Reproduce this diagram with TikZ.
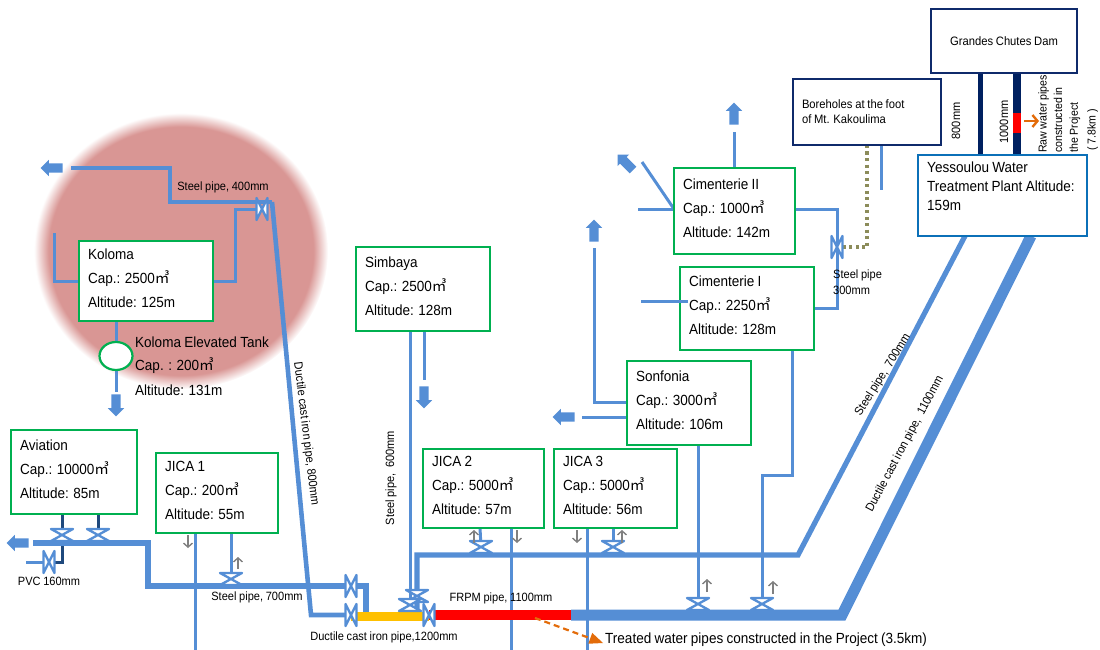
\documentclass[tikz,border=0pt]{standalone}
\usepackage{fontspec}
\setmainfont[FakeStretch=0.92,WordSpace=0.88]{Liberation Sans}
\newfontfamily\cjk{Noto Sans CJK SC}
\usetikzlibrary{arrows,arrows.meta,shapes,positioning,calc,backgrounds}
\definecolor{pipeblue}{HTML}{558ED5}
\definecolor{darkpipe}{HTML}{1F497D}
\definecolor{tankgreen}{HTML}{00B050}
\definecolor{navybox}{HTML}{0F2A6B}
\definecolor{plantblue}{HTML}{0B70B8}
\definecolor{rawnavy}{HTML}{002060}
\definecolor{oliveline}{HTML}{8C8C5A}
\definecolor{orangearrow}{HTML}{E36C0A}
\definecolor{glowred}{HTML}{D99694}
\definecolor{ductyellow}{HTML}{FFC000}
\pgfdeclareradialshading{glow}{\pgfpointorigin}{color(0bp)=(glowred); color(22.5bp)=(glowred); color(25bp)=(white); color(50bp)=(white)}
\newcommand{\tanktext}[3]{#1\\Cap.: #2{\cjk ㎥}\\Altitude: #3\rule[-6pt]{0pt}{0pt}}
\tikzset{
  tankbox/.style={draw=tankgreen,line width=2pt,fill=white,align=flush left,anchor=north west,
    inner xsep=9pt,inner ysep=0pt,outer sep=0pt,font=\fontsize{14.7}{24}\selectfont},
  plainbox/.style={draw=navybox,line width=2.2pt,fill=white,align=flush left,anchor=north west,
    inner sep=0pt,outer sep=0pt,font=\fontsize{12.2}{15}\selectfont},
  lbl/.style={inner sep=0pt,font=\fontsize{12}{14}\selectfont},
  txt/.style={inner sep=0pt,anchor=west,font=\fontsize{14.7}{17}\selectfont},
  pipe/.style={draw=pipeblue,line width=3pt},
  main/.style={draw=pipeblue,line width=5.2pt},
  trunk/.style={draw=pipeblue,line width=11pt},
  dark/.style={draw=darkpipe,line width=3pt},
  flow/.style={draw=gray,line width=1.4pt,->,>={Straight Barb[length=4pt,width=9pt]}},
  blockarrow/.style={single arrow,fill=pipeblue,inner xsep=0pt,inner ysep=4.5pt,outer sep=0pt,minimum height=22pt,
    minimum width=16pt,single arrow head extend=3.5pt},
  valveh/.style={minimum width=25pt,minimum height=15pt,inner sep=0pt,outer sep=0pt,path picture={
    \draw[pipeblue,line width=2.3pt,fill=white,line join=round]
      ([shift={(1.5pt,1.5pt)}]path picture bounding box.south west) -- ([shift={(-1.5pt,-1.5pt)}]path picture bounding box.north east)
      -- ([shift={(1.5pt,-1.5pt)}]path picture bounding box.north west) -- ([shift={(-1.5pt,1.5pt)}]path picture bounding box.south east) -- cycle;}},
  valvev/.style={minimum width=14pt,minimum height=25pt,inner sep=0pt,outer sep=0pt,path picture={
    \draw[pipeblue,line width=2.3pt,fill=white,line join=round]
      ([shift={(1.5pt,1.5pt)}]path picture bounding box.south west) -- ([shift={(-1.5pt,-1.5pt)}]path picture bounding box.north east)
      -- ([shift={(-1.5pt,1.5pt)}]path picture bounding box.south east) -- ([shift={(1.5pt,-1.5pt)}]path picture bounding box.north west) -- cycle;}}
}
\begin{document}
\begin{tikzpicture}[x=1pt,y=-1pt]
  \useasboundingbox (0,0) rectangle (1100,650);

  % Valves
  \node[valvev] (vKoloma) at (262,209) {};
  \node[valveh] (vAvi1) at (62,535) {};
  \node[valveh] (vAvi2) at (98,535) {};
  \node[valvev] (vPvc) at (49,562) {};
  \node[valveh] (vJica1) at (231,579) {};
  \node[valvev] (vSteel) at (351,586) {};
  \node[valvev] (vDuct) at (351,615) {};
  \node[valveh] (vOne) at (417,596) {};
  \node[valveh] (vTwo) at (410,605) {};
  \node[valvev] (vFrpm) at (429,615) {};
  \node[valveh] (vJica2) at (481,547) {};
  \node[valveh] (vJica3) at (613,547) {};
  \node[valveh] (vSon) at (698,604) {};
  \node[valveh] (vCim) at (762,604) {};
  \node[valvev] (vBore) at (837,247) {};

  % Reservoirs
  \node[tankbox,text width=116pt,minimum height=80pt] (koloma) at (79,241) {\tanktext{Koloma}{2500}{125m}};
  \node[tankbox,text width=108pt,minimum height=84pt] (aviation) at (11,430) {\tanktext{Aviation}{10000}{85m}};
  \node[tankbox,text width=104pt,minimum height=80pt] (jicaA) at (156,453) {\tanktext{JICA 1}{200}{55m}};
  \node[tankbox,text width=116pt,minimum height=84pt] (simbaya) at (356,247) {\tanktext{Simbaya}{2500}{128m}};
  \node[tankbox,text width=103pt,minimum height=79pt] (jicaB) at (423,449) {\tanktext{JICA 2}{5000}{57m}};
  \node[tankbox,text width=105pt,minimum height=79pt] (jicaC) at (554,449) {\tanktext{JICA 3}{5000}{56m}};
  \node[tankbox,text width=106pt,minimum height=84pt] (sonfonia) at (627,361) {\tanktext{Sonfonia}{3000}{106m}};
  \node[tankbox,text width=116pt,minimum height=83pt] (cimA) at (680,267) {\tanktext{Cimenterie I}{2250}{128m}};
  \node[tankbox,text width=103pt,minimum height=86pt] (cimB) at (674,168) {\tanktext{Cimenterie II}{1000}{142m}};
  \node[draw=tankgreen,line width=2.2pt,fill=white,ellipse,minimum width=33pt,minimum height=28pt,inner sep=0pt] (tank) at (116,356) {};

  % Sources
  \node[plainbox,align=flush center,text width=146pt,minimum height=64pt] (dam) at (931,9) {Grandes Chutes Dam};
  \node[plainbox,text width=130pt,inner xsep=9pt,minimum height=66pt] (bore) at (793,79) {Boreholes at the foot\\of Mt. Kakoulima};
  \node[draw=plantblue,line width=2.2pt,fill=white,anchor=north west,inner sep=0pt,outer sep=0pt,minimum width=169pt,minimum height=81pt] (plant) at (918,155) {};
  \node[inner sep=0pt,anchor=north west,align=flush left,font=\fontsize{14.7}{19}\selectfont] (plantText) at (927,162) {Yessoulou Water\\Treatment Plant Altitude:\\159m};

  % Block arrows
  \node[blockarrow,rotate=180] (outKoloma) at (54,168) {};
  \node[blockarrow,rotate=270] (outTank) at (116,403) {};
  \node[blockarrow,rotate=180] (outAvi) at (20,543) {};
  \node[blockarrow,rotate=270] (outSim) at (424,395) {};
  \node[blockarrow,rotate=180] (outSon) at (566,417) {};
  \node[blockarrow,rotate=90] (outUp) at (594,233) {};
  \node[blockarrow,rotate=90] (outCim) at (734,116) {};
  \node[blockarrow,rotate=135] (outDiag) at (627,164) {};

  % Free ends and corners
  \coordinate (kolomaEnd) at (71,168);
  \coordinate (kolomaStub) at (54,233);
  \coordinate (ironTop) at (272,202);
  \coordinate (ironFoot) at (311,615);
  \coordinate (aviEnd) at (33,543);
  \coordinate (steelFoot) at (366,612);
  \coordinate (steelKnee) at (798,555);
  \coordinate (trunkKnee) at (842,615);
  \coordinate (trunkRed) at (571,615);
  \coordinate (boreStub) at (881,190);
  \coordinate (diagEnd) at (642,162);

  \begin{scope}[on background layer]
    % Koloma service area
    \shade[shading=glow] (181,251) ellipse [x radius=147,y radius=138];

    % Thin pipes
    \draw[pipe] (kolomaStub) |- (koloma.west);
    \draw[pipe] (koloma.east) -| (235,209) -- (vKoloma.center);
    \draw[pipe] (195,533) -- (195,650);
    \draw[pipe] (vJica1 |- jicaA.south) -- (vJica1.center);
    \draw[pipe] (vTwo |- simbaya.south) -- (vTwo.center);
    \draw[pipe] (outSim |- simbaya.south) -- (424,380);
    \draw[pipe] (480,528) -- (vJica2.center);
    \draw[pipe] (511,528) -- (511,650);
    \draw[pipe] (587,528) -- (587,650);
    \draw[pipe] (vJica3 |- jicaC.south) -- (vJica3.center);
    \draw[pipe] (vSon |- sonfonia.south) -- (vSon.center);
    \draw[pipe] (792,350) -- (792,475) -- (762,475) -- (vCim.center);
    \draw[pipe] (sonfonia.west |- 0,417) -- (582,417);
    \draw[pipe] (sonfonia.west |- 0,402) -- (594,402) -- (594,248);
    \draw[pipe] ([yshift=2pt]cimB.west) -- +(-36,0);
    \draw[pipe] ([yshift=2pt]cimB.west) -- (diagEnd);
    \draw[pipe] (outCim |- cimB.north) -- (734,132);
    \draw[pipe] ([yshift=2pt]cimB.east) -| (vBore.center) |- (cimA.east);
    \draw[pipe] (boreStub |- bore.south) -- (boreStub);
    \draw[pipe] (tank.center) -- (116,321);
    \draw[pipe] (tank.center) -- (116,392);
    \draw[pipe] (26,562) -- (vPvc.center);
    \draw[dark] (vAvi1 |- aviation.south) -- (vAvi1.center);
    \draw[dark] (vAvi2 |- aviation.south) -- (vAvi2.center);
    \draw[dark] (62,543) |- (vPvc.center);

    % Long pipes
    \draw[main] (aviEnd) -- (148,543) -- (148,586) -- (vSteel.center) -- (366,586) -- (steelFoot);
    \draw[main,line width=4.6pt] (ironTop) -- (ironFoot) -- (vDuct.center);
    \draw[main] (417,612) -- (417,555) -- (steelKnee) -- (plant.south -| 965,0);
    \draw[pipe,line width=3.4pt] (ironTop) -- (170,202) -- (170,168) -- (kolomaEnd);

    % Treated water main
    \draw[trunk] (trunkRed) -- (trunkKnee) -- (plant.south -| 1031,0);
    \draw[draw=red,line width=10pt] (vFrpm.center) -- (trunkRed);
    \draw[draw=ductyellow,line width=9pt] (vDuct.center |- 0,616) -- (vFrpm.center |- 0,616);

    % Raw water
    \draw[draw=rawnavy,line width=5pt] (dam.south -| 980,0) -- (plant.north -| 980,0);
    \draw[draw=rawnavy,line width=8pt] (dam.south -| 1017,0) -- (plant.north -| 1017,0);
    \draw[draw=red,line width=8pt] (1017,113) -- (1017,133);
    \draw[draw=oliveline,line width=3.2pt,dash pattern=on 3pt off 3.5pt] (bore.south -| 867,0) |- (vBore.center);
  \end{scope}

  \draw[pipe] (cimA.west |- 0,301) -- +(8,0);
  \draw[pipe] (cimA.west |- 0,301) -- (641,301);

  % Project arrows
  \draw[draw=orangearrow,line width=2.4pt,->,>={Straight Barb[length=5pt,width=12pt]}] (1024,121) -- (1039,121);
  \draw[draw=orangearrow,line width=2.2pt,dash pattern=on 6pt off 4pt,-triangle 45] (535,618) -- (603,643);

  % Flow directions
  \draw[flow] (188,535) -- (188,548);
  \draw[flow] (238,569) -- (238,557);
  \draw[flow] (474,543) -- (474,530);
  \draw[flow] (517,530) -- (517,543);
  \draw[flow] (577,530) -- (577,543);
  \draw[flow] (622,543) -- (622,530);
  \draw[flow] (707,592) -- (707,579);
  \draw[flow] (773,594) -- (773,581);

  % Tank text
  \node[txt] (tankA) at (135,342) {Koloma Elevated Tank};
  \node[txt] (tankB) at (135,366) {Cap. : 200{\cjk ㎥}};
  \node[txt] (tankC) at (135,390) {Altitude: 131m};

  % Pipe labels
  \node[lbl] (lSteelA) at (223,187) {Steel pipe, 400mm};
  \node[lbl,rotate=-83] (lIron) at (306,434) {Ductile cast iron pipe, 800mm};
  \node[lbl] (lPvc) at (49,581) {PVC 160mm};
  \node[lbl] (lSteelB) at (257,597) {Steel pipe, 700mm};
  \node[lbl] (lIronB) at (384,637) {Ductile cast iron pipe,1200mm};
  \node[lbl,rotate=90] (lSteelC) at (391,478) {Steel pipe,\ \ 600mm};
  \node[lbl] (lFrpm) at (501,598) {FRPM pipe, 1100mm};
  \node[lbl,align=flush left,anchor=north west,font=\fontsize{12}{16}\selectfont] (lSteelD) at (833,270) {Steel pipe\\300mm};
  \node[lbl,rotate=58] (lSteelE) at (883,375) {Steel pipe,\ \ 700mm};
  \node[lbl,rotate=62] (lIronC) at (905,444) {Ductile cast iron pipe,\ \ 1100mm};
  \node[lbl,rotate=90] (lRawA) at (956,121) {800mm};
  \node[lbl,rotate=90] (lRawB) at (1004,122) {1000mm};
  \node[lbl,rotate=90,anchor=north west,align=flush left,font=\fontsize{11.5}{15.7}\selectfont] (lRaw) at (1038,153) {Raw water pipes\\constructed in\\the Project\\[2pt]\ ( 7.8km )};
  \node[txt] (lTreated) at (605,640) {Treated water pipes constructed in the Project (3.5km)};
\end{tikzpicture}
\end{document}
